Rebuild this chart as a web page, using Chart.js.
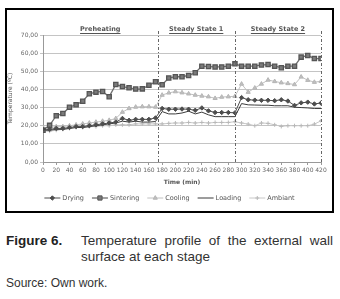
<!DOCTYPE html>
<html>
<head>
<meta charset="utf-8">
<script src="https://cdn.jsdelivr.net/npm/chart.js@4.4.0/dist/chart.umd.min.js"></script>
<style>
  body { margin: 0; width: 340px; height: 299px; background: #fff; position: relative; overflow: hidden; }
  #frame { position: absolute; left: 5px; top: 8px; width: 329px; height: 205px; border: 1.5px solid #000; box-sizing: border-box; }
  #myChart { position: absolute; left: 6px; top: 9px; display: block; }
  .cap { position: absolute; font-family: 'Liberation Sans', Arial, sans-serif; color: #333; }
  #figlab { left: 6px; top: 233px; font-size: 13.5px; font-weight: bold; color: #222; }
  #figtxt { left: 81px; top: 233px; width: 252px; font-size: 13.5px; line-height: 16px; text-align: justify; }
  #src { left: 6px; top: 276px; font-size: 12px; }
</style>
</head>
<body>
<div id="frame"></div>
<canvas id="myChart" width="327" height="203"></canvas>
<div class="cap" id="figlab">Figure 6.</div>
<div class="cap" id="figtxt">Temperature profile of the external wall surface at each stage</div>
<div class="cap" id="src">Source: Own work.</div>
<script>
// time axis (min)
var minutes = [0, 10, 20, 30, 40, 50, 60, 70, 80, 90, 100, 110, 120, 130, 140, 150, 160, 170,
  180, 190, 200, 210, 220, 230, 240, 250, 260, 270, 280, 290,
  300, 310, 320, 330, 340, 350, 360, 370, 380, 390, 400, 410, 420];

var drying = [18, 18, 18.5, 18.5, 19, 19.5, 19.5, 20, 20.5, 21, 21.5, 22, 24, 23, 23.5, 23.5, 23.5, 24.3,
  29.5, 29.1, 29.1, 29.2, 29.1, 28.5, 29.8, 28.2, 27.3, 27.3, 27.3, 27.1,
  35.5, 34.3, 34.1, 34, 34, 33.8, 34.3, 33.6, 31.2, 32.6, 33, 32, 32.5];
var sintering = [17.5, 20.2, 25.5, 26.7, 30.2, 31.6, 33.5, 37.6, 38.5, 38.9, 36, 42.7, 41.6, 40.9, 40.2, 40.3, 42.3, 44.2,
  42.6, 46.3, 47, 47, 47.7, 49.2, 52.8, 52.6, 52.4, 52.4, 52.8, 54.1,
  52.8, 52.8, 52.8, 53.5, 53.7, 52.8, 52, 52.8, 52.8, 57.8, 58.7, 57, 57];
var cooling = [19, 19, 19.5, 19.5, 20, 20.5, 21, 21.5, 22, 22.5, 23, 24, 27.5, 29.5, 30.3, 30.5, 30.5, 30.3,
  36.9, 38.1, 38.8, 38.2, 37.6, 36.9, 36.4, 36, 35.1, 35.8, 36, 36.2,
  43, 38.5, 40.8, 43, 45.2, 44.4, 43.7, 43.3, 42.7, 46.9, 45.1, 44, 44.5];
var loading = [17.5, 17.5, 18, 18, 18.5, 19, 19, 19.5, 20, 20.5, 21, 21.5, 22.5, 22, 22.5, 22, 22, 22.3,
  27.8, 26.5, 26.5, 27, 28, 26.5, 27.5, 26, 25, 25, 25, 25,
  32.2, 31.5, 31.4, 31.3, 31.3, 31, 31, 31, 30.2, 30, 29.8, 29.5, 29.5];
var ambiant = [17, 17, 17.5, 18, 18.5, 19, 19, 19.5, 19.5, 20, 20, 20.5, 20.5, 20.5, 21, 21, 21, 21,
  21, 21.3, 21.5, 21.5, 21.8, 21.5, 21.8, 21.5, 21.8, 21.8, 21.8, 22.2,
  21.5, 20.9, 20, 21.5, 21.3, 20.5, 19.6, 20, 20, 20, 20, 20.9, 22.7];

// stage boundaries and headers
var stageBounds = [0, 173, 290, 420];
var stageNames = ['Preheating', 'Steady State 1', 'Steady State 2'];

function pts(arr) {
  return arr.map(function (v, i) { return { x: minutes[i], y: v }; });
}

var fontFam = "'DejaVu Sans', Verdana, sans-serif";

var stagePlugin = {
  id: 'stages',
  afterDraw: function (chart) {
    var ctx = chart.ctx;
    var xs = chart.scales.x;
    var area = chart.chartArea;
    ctx.save();
    // outer frame of the figure
    ctx.strokeStyle = '#000';
    ctx.lineWidth = 1;
    ctx.strokeRect(0.5, 0.5, chart.width - 1, chart.height - 1);
    // dashed separators
    ctx.strokeStyle = '#666';
    ctx.setLineDash([3, 2, 1, 2]);
    for (var i = 1; i < stageBounds.length; i++) {
      var px = Math.round(xs.getPixelForValue(stageBounds[i])) + 0.5;
      ctx.beginPath();
      ctx.moveTo(px, area.top - 4);
      ctx.lineTo(px, area.bottom);
      ctx.stroke();
    }
    ctx.setLineDash([]);
    // headers
    ctx.font = 'bold 6.5px ' + fontFam;
    ctx.fillStyle = '#555';
    ctx.strokeStyle = '#555';
    ctx.textAlign = 'center';
    ctx.textBaseline = 'middle';
    for (var j = 0; j < stageNames.length; j++) {
      var cx = (xs.getPixelForValue(stageBounds[j]) + xs.getPixelForValue(stageBounds[j + 1])) / 2;
      var y = 20;
      ctx.fillText(stageNames[j], cx, y);
      var w = ctx.measureText(stageNames[j]).width;
      ctx.beginPath();
      ctx.moveTo(cx - w / 2, y + 4.5);
      ctx.lineTo(cx + w / 2, y + 4.5);
      ctx.stroke();
    }
    // legend (line with marker, Excel style)
    ctx.font = '6.5px ' + fontFam;
    ctx.textAlign = 'left';
    var sets = chart.data.datasets;
    var lineW = 16, gap = 2, itemGap = 8;
    var total = 0;
    sets.forEach(function (d) { total += lineW + gap + ctx.measureText(d.label).width + itemGap; });
    total -= itemGap;
    var x = chart.width / 2 - total / 2;
    var ly = 189;
    sets.forEach(function (d) {
      ctx.strokeStyle = d.borderColor;
      ctx.lineWidth = d.borderWidth;
      ctx.beginPath();
      ctx.moveTo(x, ly);
      ctx.lineTo(x + lineW, ly);
      ctx.stroke();
      if (d.pointRadius > 0) {
        ctx.fillStyle = d.pointBackgroundColor;
        ctx.strokeStyle = d.pointBorderColor;
        ctx.lineWidth = 1;
        Chart.helpers.drawPoint(ctx, { pointStyle: d.pointStyle, rotation: 0, radius: d.pointRadius, borderWidth: 1 }, x + lineW / 2, ly);
      }
      ctx.fillStyle = '#555';
      ctx.fillText(d.label, x + lineW + gap, ly);
      x += lineW + gap + ctx.measureText(d.label).width + itemGap;
    });
    ctx.restore();
  }
};

var ctx = document.getElementById('myChart').getContext('2d');
var myChart = new Chart(ctx, {
  type: 'line',
  data: {
    datasets: [{
      label: 'Drying',
      data: pts(drying),
      borderColor: '#4d4d4d',
      borderWidth: 1,
      pointStyle: 'rectRot',
      pointRadius: 2.2,
      pointBackgroundColor: '#4d4d4d',
      pointBorderColor: '#4d4d4d'
    }, {
      label: 'Sintering',
      data: pts(sintering),
      borderColor: '#707070',
      borderWidth: 1.3,
      pointStyle: 'rect',
      pointRadius: 3,
      pointBackgroundColor: '#7a7a7a',
      pointBorderColor: '#555'
    }, {
      label: 'Cooling',
      data: pts(cooling),
      borderColor: '#c0c0c0',
      borderWidth: 1,
      pointStyle: 'triangle',
      pointRadius: 2.4,
      pointBackgroundColor: '#c0c0c0',
      pointBorderColor: '#b5b5b5'
    }, {
      label: 'Loading',
      data: pts(loading),
      borderColor: '#3a3a3a',
      borderWidth: 1,
      pointRadius: 0
    }, {
      label: 'Ambiant',
      data: pts(ambiant),
      borderColor: '#c8c8c8',
      borderWidth: 1,
      pointStyle: 'cross',
      pointRadius: 2,
      pointBackgroundColor: '#c8c8c8',
      pointBorderColor: '#b8b8b8'
    }]
  },
  options: {
    responsive: false,
    animation: false,
    layout: { padding: { top: 26, right: 12, bottom: 26, left: 1 } },
    plugins: {
      legend: { display: false },
      tooltip: { enabled: false }
    },
    scales: {
      x: {
        type: 'linear',
        min: 0,
        max: 420,
        afterFit: function (s) { s.height = 24; },
        ticks: { stepSize: 20, font: { size: 6, family: fontFam }, color: '#666', padding: 2, maxRotation: 0, autoSkip: false },
        grid: { drawOnChartArea: false, tickLength: 3, color: '#999' },
        border: { color: '#999' },
        title: { display: true, text: 'Time (min)', font: { size: 6, family: fontFam, weight: 'bold' }, color: '#555', padding: 0 }
      },
      y: {
        min: 0,
        max: 70,
        afterFit: function (s) { s.width = 36; },
        ticks: {
          stepSize: 10, font: { size: 6, family: fontFam }, color: '#666', padding: 2,
          callback: function (v) { return v.toFixed(2).replace('.', ','); }
        },
        grid: { color: '#c4c4c4', tickLength: 3 },
        border: { color: '#999' },
        title: { display: true, text: 'Temperature (ºC)', font: { size: 6, family: fontFam }, color: '#555', padding: 0 }
      }
    }
  },
  plugins: [stagePlugin]
});
</script>
</body>
</html>
